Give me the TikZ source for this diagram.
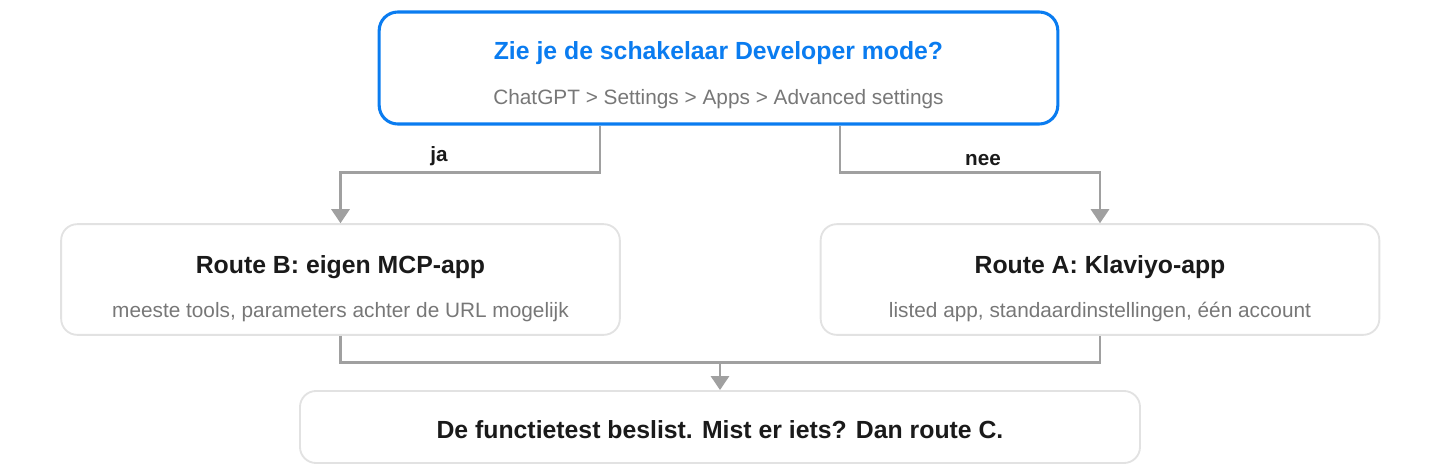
\documentclass[tikz,border=0pt]{standalone}
\usepackage{fontspec}
\setmainfont{Liberation Sans}
\usetikzlibrary{arrows.meta,calc}
\definecolor{askblue}{HTML}{0A7CF0}
\definecolor{boxgray}{HTML}{E2E2E2}
\definecolor{linegray}{HTML}{A0A0A0}
\definecolor{subgray}{HTML}{777777}
\definecolor{inkblack}{HTML}{1A1A1A}
\newcommand{\headtxt}{\fontsize{18.6}{22}\selectfont\bfseries}
\newcommand{\subtxt}{\fontsize{15.6}{18}\selectfont\color{subgray}}
\newcommand{\topstrut}[1]{\rule{0pt}{#1}}
\tikzset{
	question/.style={draw=askblue, line width=2.3pt, rounded corners=14pt, align=center,
		minimum width=509pt, minimum height=84pt, text=askblue},
	route/.style={draw=boxgray, line width=1.4pt, rounded corners=12pt, align=center,
		minimum width=419pt, minimum height=83pt, text=inkblack},
	verdict/.style={draw=boxgray, line width=1.4pt, rounded corners=12pt, align=center,
		minimum width=630pt, minimum height=54pt, text=inkblack},
	conn/.style={draw=linegray, line width=2.2pt},
	flowarrow/.style={conn, -{Triangle[width=13.5pt,length=10.5pt]}},
	answer/.style={font=\fontsize{15.5}{18}\selectfont\bfseries, text=inkblack}
}
\begin{document}
\begin{tikzpicture}[x=0.75pt,y=-0.75pt]
\useasboundingbox (0,0) rectangle (1440,472);

% vraag bovenaan
\node[question] (ask) at (718.5,68) {{\headtxt\topstrut{24pt}Zie je de schakelaar Developer mode?}\\[18pt]{\subtxt ChatGPT > Settings > Apps > Advanced settings}};

% twee routes
\node[route] (routeB) at (340.5,279.5) {{\headtxt\topstrut{27pt}Route B: eigen MCP-app}\\[17pt]{\subtxt meeste tools, parameters achter de URL mogelijk}};
\node[route] (routeA) at (1100,279.5) {{\headtxt\topstrut{27pt}Route A: Klaviyo-app}\\[17pt]{\subtxt listed app, standaardinstellingen, één account}};

% conclusie
\node[verdict] (test) at (720,427) {\headtxt\topstrut{18pt}De functietest beslist. Mist er iets? Dan route C.};

% ja / nee
\draw[flowarrow] ($(ask.south)+(-118.5,0)$) -- ++(0,47) -| (routeB.north) node[answer, pos=0.31, above=1pt] {ja};
\draw[flowarrow] ($(ask.south)+(121.5,0)$) -- ++(0,47) -| (routeA.north) node[answer, pos=0.275, above=1pt] {nee};

% samenkomen
\coordinate (join) at ($(routeB.south)+(0,27)$);
\draw[conn] (routeB.south) -- (join) -| (routeA.south);
\draw[flowarrow] (join -| test.north) -- (test.north);
\end{tikzpicture}
\end{document}
